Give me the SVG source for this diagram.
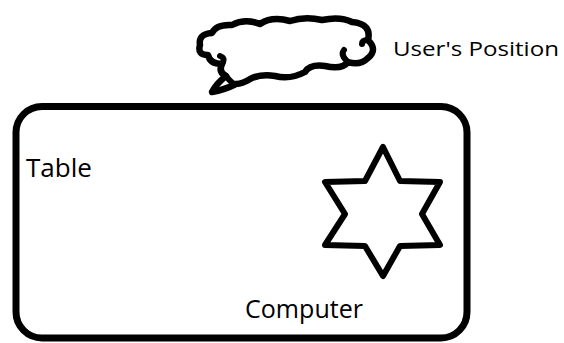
<svg xmlns="http://www.w3.org/2000/svg" width="564" height="343" viewBox="0 0 564 343">
<style>
.ln{fill:none;stroke:#000;stroke-linejoin:round;stroke-linecap:round}
.t{font-family:"Open Sans","Noto Sans","DejaVu Sans",sans-serif;fill:#000}
</style>
<rect width="564" height="343" fill="#fff"/>
<g id="table">
<rect class="ln" x="16" y="106.5" width="451" height="231.5" rx="26" ry="26" stroke-width="7"/>
<text class="t" x="26" y="177" font-size="26" textLength="66" lengthAdjust="spacingAndGlyphs">Table</text>
</g>
<g id="computer">
<polygon class="ln" stroke-width="6" points="383,147 400,181 440,182 422,214 440,245 400,246 383,276 365,246 325,245 345,214 325,182 365,181"/>
<text class="t" x="245" y="318" font-size="25.5" textLength="118" lengthAdjust="spacingAndGlyphs">Computer</text>
</g>
<g id="user">
<path class="ln" stroke-width="6.5" d="M200,45 Q198,34 212,33 Q216,24 232,25 Q245,18 260,24 Q272,16 290,21 Q305,16 322,20 Q340,16 352,22 Q372,24 368,40 Q378,50 368,58 Q360,66 348,62 Q342,70 325,66 Q310,64 305,72 Q290,80 275,76 Q262,74 252,78 Q242,84 236,84 Q224,90 212,92 Q216,84 226,76 Q218,72 222,64 Q210,64 208,55 Q197,55 200,45 Z"/>
<path class="ln" stroke-width="6" d="M348,62 Q340,55 344,50 M222,64 Q226,58 220,56 M368,40 Q362,40 362,44 M226,76 Q232,84 236,84"/>
<text class="t" x="393" y="56" font-size="20.5" textLength="166" lengthAdjust="spacingAndGlyphs">User's Position</text>
</g>
<g id="connectors"></g>
</svg>
